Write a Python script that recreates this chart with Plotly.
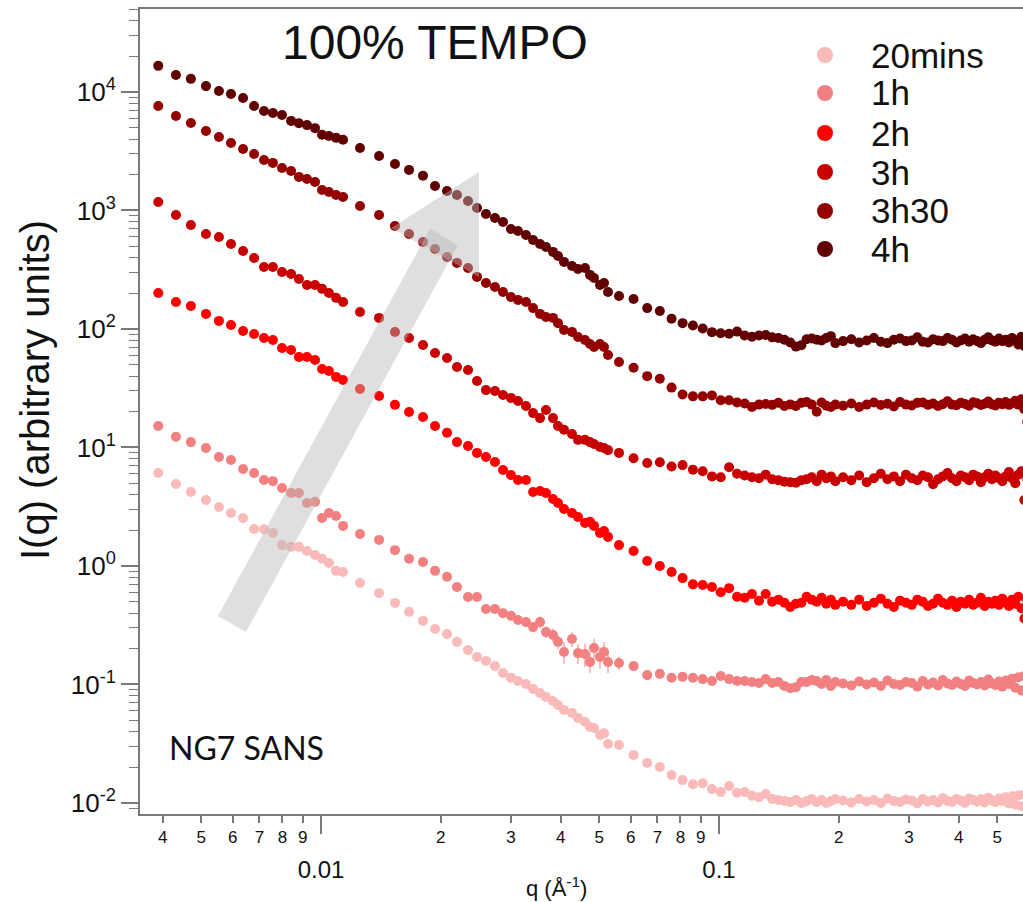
import plotly.graph_objects as go

# q grid (Å^-1): low-q, mid-q and high-q instrument configurations
q_low = [0.00390, 0.00432, 0.00471, 0.00514, 0.00554, 0.00594, 0.00637, 0.00679, 0.00719, 0.00757,
         0.00798, 0.00841, 0.00880, 0.00922, 0.00966, 0.01006, 0.01047, 0.01091, 0.01136]
q_mid = [0.01253, 0.01399, 0.01534, 0.01664, 0.01804, 0.01934, 0.02073, 0.02196, 0.02341, 0.02466,
         0.02597, 0.02736, 0.02866, 0.03001, 0.03126, 0.03274, 0.03410, 0.03550, 0.03675, 0.03827,
         0.03940, 0.04079, 0.04272, 0.04423, 0.04606, 0.04741, 0.04852, 0.05023, 0.05141, 0.05261,
         0.05607]
q_high = [0.061, 0.066, 0.071, 0.076, 0.081, 0.086, 0.091, 0.096, 0.101, 0.106, 0.111, 0.116, 0.121, 0.126,
          0.131, 0.136, 0.141, 0.146, 0.151, 0.156, 0.161, 0.166, 0.171, 0.176, 0.181, 0.186, 0.191, 0.196,
          0.205, 0.215, 0.225, 0.235, 0.245, 0.255, 0.265, 0.275, 0.285, 0.295, 0.305, 0.315, 0.325, 0.335,
          0.345, 0.355, 0.365, 0.375, 0.385, 0.395, 0.405, 0.415, 0.425, 0.435, 0.445, 0.455, 0.465, 0.475,
          0.485, 0.495, 0.505, 0.515, 0.525, 0.535, 0.545, 0.555, 0.565, 0.575, 0.585, 0.595]
q = q_low + q_mid + q_high

labels = ["20mins", "1h", "2h", "3h", "3h30", "4h"]

i_20mins = [6.09, 4.92, 4.21, 3.61, 3.15, 2.80, 2.54, 2.05, 2.04, 1.90, 1.50, 1.45, 1.45, 1.34, 1.24, 1.15, 1.06, 0.91, 0.89,
            0.72, 0.59, 0.488, 0.41, 0.344, 0.294, 0.267, 0.229, 0.195, 0.171, 0.158, 0.143, 0.125, 0.114, 0.107,
            0.101, 0.0916, 0.0847, 0.0785, 0.0726, 0.0671, 0.061, 0.0574, 0.0521, 0.0483, 0.0438, 0.0429, 0.0375,
            0.0387, 0.0315, 0.0309,
            0.0254, 0.0218, 0.0201, 0.0172, 0.0156, 0.0144, 0.0147, 0.0131, 0.0124, 0.0139, 0.0122, 0.0124, 0.0115,
            0.0112, 0.0119, 0.0108, 0.0106, 0.0104, 0.0102, 0.0106, 0.0100, 0.0104, 0.0108, 0.0102, 0.0106, 0.0100,
            0.0104, 0.0108,
            0.0105, 0.0101, 0.0108, 0.0103, 0.0106, 0.0100, 0.0109, 0.0104, 0.0102, 0.0107, 0.0105, 0.0099, 0.0108,
            0.0103, 0.0106, 0.0101, 0.0110, 0.0104, 0.0102, 0.0108, 0.0105, 0.0100, 0.0109, 0.0106, 0.0103, 0.0108,
            0.0101, 0.0111, 0.0105, 0.0102, 0.0109, 0.0104, 0.0112, 0.0099, 0.0114, 0.0097, 0.0116, 0.0094, 0.0118,
            0.0096]
i_1h = [15.2, 12.3, 11.1, 9.9, 8.3, 7.84, 6.59, 6.09, 5.32, 5.2, 4.55, 4.13, 4.13, 3.40, 3.48, 2.54, 2.80, 2.64, 2.18,
        1.86, 1.66, 1.36, 1.15, 1.08, 0.91, 0.81, 0.665, 0.547, 0.547, 0.434, 0.434, 0.40, 0.38, 0.35, 0.336, 0.305,
        0.336, 0.277, 0.262, 0.229, 0.188, 0.242, 0.184, 0.181, 0.155, 0.203, 0.171, 0.188, 0.155, 0.152,
        0.143, 0.120, 0.123, 0.114, 0.116, 0.114, 0.111, 0.107, 0.118, 0.111, 0.107, 0.107, 0.105, 0.103, 0.111,
        0.103, 0.105, 0.097, 0.093, 0.095, 0.105, 0.105, 0.109, 0.107, 0.101, 0.109, 0.097, 0.105,
        0.102, 0.098, 0.106, 0.100, 0.104, 0.097, 0.108, 0.101, 0.099, 0.105, 0.103, 0.096, 0.107, 0.100, 0.104,
        0.098, 0.109, 0.102, 0.099, 0.106, 0.101, 0.097, 0.108, 0.103, 0.100, 0.105, 0.098, 0.110, 0.102, 0.099,
        0.106, 0.096, 0.108, 0.101, 0.112, 0.094, 0.115, 0.089, 0.118, 0.097]
err_1h_mid = [0, 0, 0, 0, 0, 0, 0, 0, 0, 0, 0, 0, 0, 0, 0, 0,
              0.03, 0.04, 0.03, 0.035, 0.03, 0.04, 0.035, 0.035, 0.04, 0.03, 0.04, 0.035, 0.04, 0.03, 0.02]
i_2h = [201, 169, 156, 134, 117, 108, 96.2, 90.8, 84, 80.8, 69.2, 66.5, 58.0, 58.0, 54.7, 45.9, 44.2, 39.4, 37.1,
        31.2, 27.2, 22.9, 19.9, 18.1, 15.2, 13.3, 11.1, 10.3, 9.0, 8.3, 7.55, 6.46, 5.86, 5.32, 5.32, 4.21, 4.3,
        4.13, 3.68, 3.40, 3.03, 2.80, 2.59, 2.31, 2.36, 2.18, 1.90, 1.97, 1.76, 1.50,
        1.34, 1.10, 1.0, 0.89, 0.79, 0.70, 0.69, 0.665, 0.60, 0.65, 0.55, 0.54, 0.58, 0.51, 0.58, 0.50, 0.52,
        0.49, 0.45, 0.48, 0.49, 0.55, 0.52, 0.50, 0.54, 0.48, 0.52, 0.47,
        0.50, 0.47, 0.52, 0.46, 0.49, 0.53, 0.48, 0.45, 0.51, 0.49, 0.47, 0.52, 0.50, 0.46, 0.48, 0.53, 0.49,
        0.47, 0.51, 0.45, 0.50, 0.48, 0.52, 0.47, 0.49, 0.54, 0.46, 0.50, 0.48, 0.51, 0.47, 0.53, 0.49, 0.46,
        0.52, 0.48, 0.55, 0.44, 0.36, 0.51]
i_3h = [1180, 916, 755, 634, 598, 521, 455, 397, 333, 333, 303, 291, 264, 235, 235, 218, 201, 183, 169,
        139, 124, 94.4, 84, 73.3, 62.7, 56.9, 47.8, 45.1, 36.4, 30.5, 30.0, 27.7, 26.2, 24.7, 22.4, 19.5, 17.7,
        20.7, 17.7, 15.2, 14.1, 13.0, 11.6, 11.6, 11.1, 10.7, 10.1, 9.9, 9.5, 9.0,
        8.1, 7.4, 7.5, 6.9, 7.1, 6.5, 6.3, 5.7, 5.6, 6.8, 6.0, 5.8, 5.6, 5.5, 5.9, 5.4, 5.3, 5.15, 5.1, 5.05,
        5.3, 5.4, 5.6, 5.2, 5.9, 5.5, 5.7, 5.2,
        5.6, 5.3, 5.8, 5.1, 5.5, 6.0, 5.4, 5.7, 5.2, 5.9, 5.5, 5.3, 5.8, 5.6, 4.9, 5.4, 5.7, 6.1, 5.5, 5.2,
        5.8, 5.6, 5.3, 5.9, 5.7, 5.1, 5.6, 6.0, 5.4, 5.8, 5.5, 5.2, 5.7, 6.2, 5.5, 5.0, 5.9, 6.3, 3.6, 5.4]
i_3h30 = [7620, 6270, 5470, 4690, 4170, 3710, 3300, 3000, 2670, 2520, 2280, 2150, 1920, 1840, 1740, 1490, 1430,
          1350, 1300,
          1090, 916, 740, 633, 542, 473, 405, 361, 327, 275, 244, 226, 205, 186, 176, 169, 150, 134, 126, 124,
          112, 98, 94.5, 85.6, 80.7, 74.7, 70.5, 74.7, 70.5, 60.4, 52.7,
          47, 40, 38, 32, 28, 27, 27, 27.5, 25, 25, 24, 23.5, 22, 23, 23.3, 22.9, 23.8, 22.4, 23.1, 22.4, 23.8,
          24.2, 23, 20, 24, 22.5, 22, 23,
          22.5, 23.5, 22, 23, 24, 22.8, 23.4, 22.2, 24.2, 23, 22.6, 23.8, 24, 22.9, 23.5, 22.4, 23.2, 24.5, 23,
          22.7, 23.9, 23.3, 22.5, 24.1, 23.6, 22.8, 23.4, 24.4, 23.1, 22.6, 23.9, 23.2, 24.2, 22.9, 23.6, 24.8,
          23, 25.5, 21, 16.5]
i_4h = [16600, 13900, 12900, 11200, 10200, 9600, 8900, 7600, 6900, 6650, 6400, 5700, 5450, 5250, 4950, 4350,
        4250, 4100, 3950,
        3370, 2880, 2470, 2200, 1960, 1610, 1460, 1350, 1200, 1050, 934, 865, 800, 698, 671, 621, 564, 522, 492,
        447, 413, 368, 340, 321, 327, 286, 269, 235, 244, 205, 190,
        179, 150, 142, 122, 112, 107, 101, 94, 92, 91, 95, 88, 86, 88, 89, 85, 84, 81, 77, 71, 73, 82, 83, 81,
        80, 84, 87, 76,
        79, 82, 77, 80, 84, 78, 76, 81, 83, 79, 80, 85, 78, 77, 82, 80, 79, 84, 81, 77, 80, 83, 78, 82, 79, 76,
        81, 85, 80, 78, 83, 79, 81, 77, 84, 80, 74, 86, 72, 88]

series = [i_20mins, i_1h, i_2h, i_3h, i_3h30, i_4h]
err_1h = [0] * len(q_low) + err_1h_mid + [0] * len(q_high)

colours = ["rgb(250,186,186)", "rgb(242,128,128)", "rgb(255,0,0)",
           "rgb(200,0,0)", "rgb(148,0,0)", "rgb(96,0,0)"]

FONT = "Liberation Sans, Arial, Helvetica, sans-serif"
AXC = "#7a7a7a"

# plot box in page pixels
PL, PR, PT, PB = 140, 1023, 9, 814


def to_paper(x, y):
    return (x - PL) / (PR - PL), (PB - y) / (PB - PT)


fig = go.Figure()
for lab, ys, col in zip(labels, series, colours):
    err = None
    if lab == "1h":
        err = dict(type="data", array=err_1h, visible=True, thickness=1, width=0, color=col)
    fig.add_trace(go.Scatter(x=q, y=ys, mode="markers", name=lab, showlegend=False,
                             marker=dict(size=10, color=col, line=dict(width=0)),
                             error_y=err))

# empty trace so the overlaid digit axis gets drawn
fig.add_trace(go.Scatter(x=[], y=[], xaxis="x2", yaxis="y", showlegend=False, hoverinfo="skip"))

# x axis: decade labels on the main axis, digit labels on an overlaid axis
xr = [-2.4548, -0.2362]
digit_vals = [m * 0.001 for m in range(4, 10)] + [m * 0.01 for m in range(2, 10)] + [m * 0.1 for m in range(2, 6)]
digit_text = [str(m) for m in range(4, 10)] + [str(m) for m in range(2, 10)] + [str(m) for m in range(2, 6)]

fig.update_layout(
    width=1023, height=902,
    margin=dict(l=PL, r=1023 - PR, t=PT, b=902 - PB),
    paper_bgcolor="white", plot_bgcolor="white",
    font=dict(family=FONT, color="#111111"),
    xaxis=dict(type="log", range=xr, tickmode="array", tickvals=[0.01, 0.1], ticktext=["0.01", "0.1"],
               ticks="outside", ticklen=18, tickwidth=1.5, tickcolor=AXC, ticklabelstandoff=15,
               showline=True, linecolor=AXC, linewidth=2, mirror=True,
               showgrid=False, zeroline=False, tickfont=dict(size=24, family=FONT, color="#111111")),
    xaxis2=dict(type="log", range=xr, overlaying="x", anchor="y", side="bottom",
                tickmode="array", tickvals=digit_vals, ticktext=digit_text,
                ticks="outside", ticklen=8, tickwidth=1.5, tickcolor=AXC,
                showline=False, showgrid=False, zeroline=False,
                tickfont=dict(size=17, family=FONT, color="#111111")),
    yaxis=dict(type="log", range=[-2.0928, 4.700], tickmode="array",
               tickvals=[10.0 ** e for e in range(-2, 5)],
               ticktext=["10<sup>%d</sup>" % e for e in range(-2, 5)],
               ticks="outside", ticklen=17, tickwidth=1.5, tickcolor=AXC,
               showline=True, linecolor=AXC, linewidth=2,
               showgrid=False, zeroline=False, tickfont=dict(size=26, family=FONT, color="#111111"),
               minor=dict(tickmode="array",
                          tickvals=[m * 10.0 ** e for e in range(-3, 5) for m in range(2, 10)],
                          ticks="outside", ticklen=9, tickwidth=1.2, tickcolor=AXC, showgrid=False)),
)

# grey arrow drawn over the data
def poly(points):
    pts = [to_paper(x, y) for x, y in points]
    return "M " + " L ".join("%.4f,%.4f" % p for p in pts) + " Z"


arrow_fill = "rgba(185,185,185,0.45)"
fig.add_shape(type="path", xref="paper", yref="paper", layer="above",
              path=poly([(218, 616), (246, 632), (458, 245), (430, 229)]),
              fillcolor=arrow_fill, line=dict(width=0))
fig.add_shape(type="path", xref="paper", yref="paper", layer="above",
              path=poly([(479, 172), (391, 228), (479, 277)]),
              fillcolor=arrow_fill, line=dict(width=0))

# legend drawn by hand to match the tight spacing of the original
leg_rows = [55, 93, 133, 172, 211, 249]
for lab, col, ry in zip(labels, colours, leg_rows):
    mx, my = to_paper(825, ry)
    fig.add_shape(type="circle", xref="paper", yref="paper", xsizemode="pixel", ysizemode="pixel",
                  xanchor=mx, yanchor=my, x0=-8, x1=8, y0=-8, y1=8,
                  fillcolor=col, line=dict(width=0))
    tx, ty = to_paper(869, ry)
    fig.add_annotation(x=tx, y=ty, xref="paper", yref="paper", text=lab, showarrow=False,
                       xanchor="left", yanchor="middle", font=dict(size=35, family=FONT, color="#111111"))

tx, ty = to_paper(435, 43)
fig.add_annotation(x=tx, y=ty, xref="paper", yref="paper", text="100% TEMPO", showarrow=False,
                   xanchor="center", yanchor="middle", font=dict(size=48, family=FONT, color="#111111"))

tx, ty = to_paper(167, 747)
fig.add_annotation(x=tx, y=ty, xref="paper", yref="paper", text="NG7 SANS", showarrow=False,
                   xanchor="left", yanchor="middle", font=dict(size=32, family="Lato, Open Sans, sans-serif",
                                                              color="#111111"))

tx, ty = to_paper(556, 887)
fig.add_annotation(x=tx, y=ty, xref="paper", yref="paper", text="q (Å<sup>-1</sup>)", showarrow=False,
                   xanchor="center", yanchor="middle", font=dict(size=22, family=FONT, color="#111111"))

tx, ty = to_paper(35, 390)
fig.add_annotation(x=tx, y=ty, xref="paper", yref="paper", text="I(q) (arbitrary units)", showarrow=False,
                   textangle=-90, xanchor="center", yanchor="middle",
                   font=dict(size=40, family=FONT, color="#111111"))

# the page body has a default 8px margin; remove it so the figure sits at the window corner
fig.write_html("out.html", config={"displayModeBar": False},
               post_script="document.body.style.margin='0px';")
